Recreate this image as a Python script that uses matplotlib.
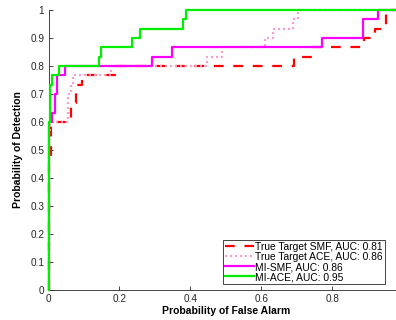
import matplotlib
matplotlib.use("Agg")
import matplotlib.pyplot as plt
import numpy as np

plt.rcParams['font.family'] = ['Liberation Sans', 'DejaVu Sans']
plt.rcParams['lines.scale_dashes'] = False

# ROC curves: false-alarm rates where detection jumps, and detection level after each jump
smf_pfa = [0.0, 0.006, 0.064, 0.077, 0.094, 0.190, 0.693, 0.742, 0.890, 0.921, 0.952]
smf_pd = [0.467, 0.600, 0.667, 0.733, 0.767, 0.800, 0.833, 0.867, 0.900, 0.933, 1.000]

ace_pfa = [0.0, 0.004, 0.055, 0.063, 0.070, 0.177, 0.446, 0.489, 0.611, 0.632, 0.689, 0.704]
ace_pd = [0.567, 0.600, 0.700, 0.733, 0.767, 0.800, 0.833, 0.867, 0.900, 0.933, 0.967, 1.000]

mismf_pfa = [0.0, 0.010, 0.018, 0.023, 0.046, 0.291, 0.347, 0.771, 0.887, 0.929]
mismf_pd = [0.600, 0.633, 0.700, 0.767, 0.800, 0.833, 0.867, 0.900, 0.967, 1.000]

miace_pfa = [0.0, 0.004, 0.011, 0.030, 0.142, 0.148, 0.235, 0.258, 0.379, 0.388]
miace_pd = [0.600, 0.733, 0.767, 0.800, 0.833, 0.867, 0.900, 0.933, 0.967, 1.000]

labels = ["True Target SMF, AUC: 0.81", "True Target ACE, AUC: 0.86",
          "MI-SMF, AUC: 0.86", "MI-ACE, AUC: 0.95"]

x_ticks = [0, 0.2, 0.4, 0.6, 0.8]
x_ticklabels = ["0", "0.2", "0.4", "0.6", "0.8"]
y_ticks = [0, 0.1, 0.2, 0.3, 0.4, 0.5, 0.6, 0.7, 0.8, 0.9, 1]
y_ticklabels = ["0", "0.1", "0.2", "0.3", "0.4", "0.5", "0.6", "0.7", "0.8", "0.9", "1"]

W, H = 396, 320
fig = plt.figure(figsize=(W / 100, H / 100), dpi=100)
ax = fig.add_axes([48.5 / W, 30 / H, 354.5 / W, 280 / H])

def curve(pfa, pd):
    x = [0.0] + list(pfa) + [1.0]
    y = [0.0] + list(pd) + [pd[-1]]
    return x, y

styles = [
    dict(color='#ff0000', lw=1.6, dashes=(7.0, 7.0)),
    dict(color='#ff99cc', lw=1.6, dashes=(1.4, 2.2)),
    dict(color='#ff00ff', lw=1.6),
    dict(color='#00ee00', lw=1.6),
]
data = [(smf_pfa, smf_pd), (ace_pfa, ace_pd), (mismf_pfa, mismf_pd), (miace_pfa, miace_pd)]
handles = []
for (pfa, pd), st, lab in zip(data, styles, labels):
    x, y = curve(pfa, pd)
    h, = ax.step(x, y, where='post', label=lab, clip_on=False, zorder=3, **st)
    handles.append(h)

ax.set_xlim(0, 1)
ax.set_ylim(0, 1)
ax.set_xticks(x_ticks)
ax.set_xticklabels(x_ticklabels)
ax.set_yticks(y_ticks)
ax.set_yticklabels(y_ticklabels)

dark = '#262626'
for s in ['top', 'right']:
    ax.spines[s].set_visible(False)
for s in ['left', 'bottom']:
    ax.spines[s].set_color(dark)
    ax.spines[s].set_linewidth(0.6)
ax.tick_params(direction='in', length=3, width=0.6, color=dark, labelcolor=dark,
               labelsize=7.2, pad=3)

ax.set_xlabel("Probability of False Alarm", fontsize=7.5, fontweight='bold', labelpad=1, color='black')
ax.set_ylabel("Probability of Detection", fontsize=7.5, fontweight='bold', labelpad=5, color='black')

leg = fig.legend(handles=handles, loc='upper left', bbox_to_anchor=(223 / W, 1 - 240 / H),
                 bbox_transform=fig.transFigure, fontsize=7.4, frameon=True, fancybox=False,
                 edgecolor=dark, framealpha=1, borderpad=0.2, labelspacing=0.0,
                 handlelength=2.8, handletextpad=0.12, borderaxespad=0)
leg.get_frame().set_linewidth(0.6)

fig.savefig("out.png", dpi=100)
